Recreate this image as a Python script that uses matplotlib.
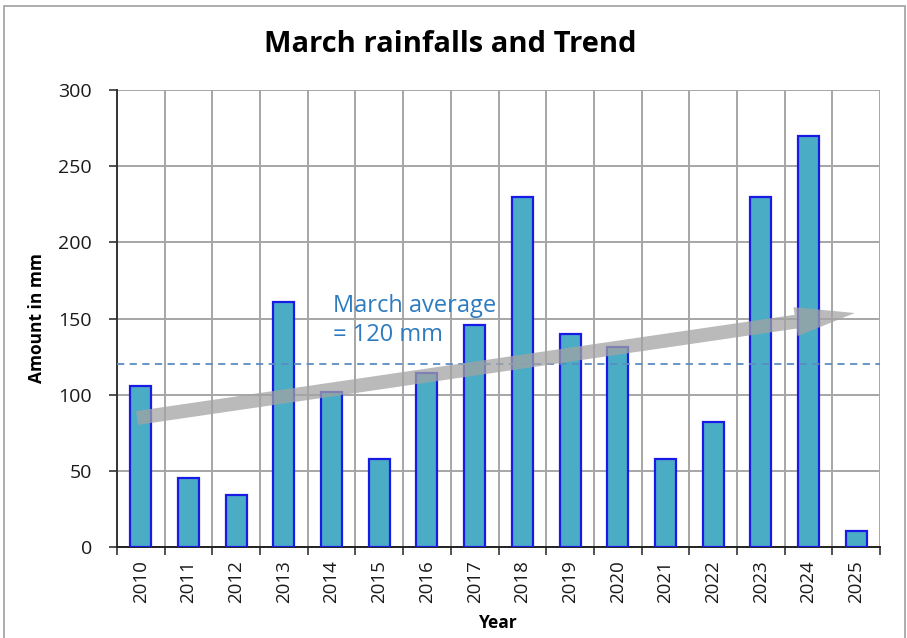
import matplotlib
matplotlib.use("Agg")
import matplotlib.pyplot as plt
from matplotlib.patches import FancyArrowPatch, Rectangle
import numpy as np

years = ["2010", "2011", "2012", "2013", "2014", "2015", "2016", "2017",
         "2018", "2019", "2020", "2021", "2022", "2023", "2024", "2025"]
rain = [106, 45, 34, 161, 102, 58, 114, 146, 230, 140, 131, 58, 82, 230, 270, 10.5]
average = 120
trend_start = (-0.08, 84.7)
trend_end = (14.97, 153.6)
yticks = [0, 50, 100, 150, 200, 250, 300]

plt.rcParams['font.family'] = ['Open Sans', 'DejaVu Sans']

fig = plt.figure(figsize=(9.07, 6.38), dpi=100)
W, H = 907, 638
ax = fig.add_axes([117 / W, 1 - 547 / H, (880 - 117) / W, (547 - 90) / H])

x = np.arange(len(years))
ax.bar(x, rain, width=0.44, color="#4BACC6", edgecolor="#1A1AE6",
       linewidth=1.6, zorder=3)

ax.set_xlim(-0.5, len(years) - 0.5)
ax.set_ylim(0, 300)
ax.set_yticks(yticks)
ax.set_yticklabels([str(t) for t in yticks], fontsize=14, color='#1a1a1a')
ax.set_xticks(x)
ax.set_xticklabels(years, rotation=90, fontsize=13.5, color='#1a1a1a')
ax.tick_params(axis='x', length=0, pad=9.5)
ax.set_xticks(np.arange(-0.5, len(years), 1), minor=True)
ax.tick_params(axis='x', which='minor', length=6, width=1.2, color='#333333',
               direction='out')
ax.tick_params(axis='y', length=6, width=1.2, color='#333333', direction='out',
               pad=12)

ax.grid(True, axis='y', which='major', color='#A6A6A6', linewidth=1.4, zorder=0)
ax.grid(True, axis='x', which='minor', color='#A6A6A6', linewidth=1.4, zorder=0)
ax.set_axisbelow(True)

for s in ['top', 'right']:
    ax.spines[s].set_visible(False)
ax.spines['left'].set_color('#333333')
ax.spines['left'].set_linewidth(1.4)
ax.spines['bottom'].set_color('#222222')
ax.spines['bottom'].set_linewidth(1.4)

ax.axhline(average, color='#5B8DC4', linestyle=(0, (4, 3)), linewidth=1.3, zorder=4)

arrow = FancyArrowPatch(trend_start, trend_end,
                        arrowstyle="simple,head_length=43,head_width=21,tail_width=10",
                        mutation_scale=1, shrinkA=0, shrinkB=0,
                        color='#A3A3A3', alpha=0.75, linewidth=0, zorder=5)
ax.add_patch(arrow)

ax.text(4.03, 148.5, "March average\n= 120 mm", color='#2E7BBF', fontsize=17,
        ha='left', va='center', linespacing=1.3, zorder=6)

ax.set_ylabel("Amount in mm", fontsize=12.5, fontweight='bold', labelpad=9)
ax.set_xlabel("Year", fontsize=12.5, fontweight='bold', labelpad=8)

fig.text(450 / W, 1 - 44 / H, "March rainfalls and Trend", fontsize=21,
         fontweight='bold', ha='center', va='center')

fig.patches.append(Rectangle((4 / W, -0.01), (905 - 4) / W, 1 - 6 / H + 0.01,
                             transform=fig.transFigure, fill=False,
                             edgecolor='#A0A0A0', linewidth=1.2))

fig.savefig("out.png", dpi=100)
